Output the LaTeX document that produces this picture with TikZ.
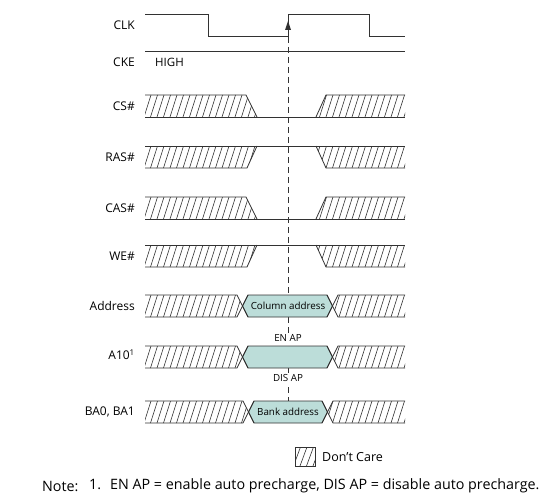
\documentclass[tikz,border=0pt]{standalone}
\usepackage{fontspec}
\setmainfont{Open Sans}
\usetikzlibrary{calc}

\definecolor{linegray}{RGB}{50,50,50}
\definecolor{busfill}{RGB}{188,221,217}

% hatched "don't care" area: #1 clip path, #2 top, #3 bottom
\newcommand{\hatchfill}[3]{%
  \begin{scope}
    \clip #1;
    \foreach \hx in {131,137.5,...,412}
      \draw[hatch] (\hx,#3) -- ($(\hx,#2)+(7,0)$);
  \end{scope}}

\begin{document}
\begin{tikzpicture}[x=1pt, y=-1pt]

    \tikzstyle{wave}=[line width=0.8pt, draw=linegray];
    \tikzstyle{hatch}=[line width=0.6pt, draw=linegray];
    \tikzstyle{siglabel}=[anchor=east, inner sep=0pt, font=\fontsize{12}{14}\selectfont];
    \tikzstyle{buslabel}=[inner sep=1pt, font=\fontsize{9.8}{11}\selectfont];
    \tikzstyle{hex}=[wave, fill=busfill];

    \useasboundingbox (0,0) rectangle (552,503);

    % signal names
    \node[siglabel] (clk)  at (135,25)  {CLK};
    \node[siglabel] (cke)  at (135,62)  {CKE};
    \node[siglabel] (cs)   at (135,106) {CS\#};
    \node[siglabel] (ras)  at (135,157) {RAS\#};
    \node[siglabel] (cas)  at (135,208) {CAS\#};
    \node[siglabel] (we)   at (135,256) {WE\#};
    \node[siglabel] (addr) at (135,306) {Address};
    \node[siglabel] (a10)  at (135,355) {A10\textsuperscript{1}};
    \node[siglabel] (ba)   at (135,412) {BA0, BA1};

    % reference edge
    \draw[wave, dash pattern=on 6pt off 4pt] (288,37) -- (288,401);

    % CLK and CKE
    \draw[wave] (145,14) -- (208,14) -- (208,36) -- (288,36) -- (288,14) -- (369,14) -- (369,36) -- (405,36);
    \fill[linegray] (285,30) -- (291,30) -- (288,21) -- cycle;
    \draw[wave] (145,51) -- (405,51);
    \node[anchor=west, inner sep=0pt, font=\fontsize{11.5}{13}\selectfont] (high) at (155,62) {HIGH};

    % CS# (low)
    \hatchfill{(145,95) -- (246,95) -- (257,117) -- (145,117) -- cycle}{95}{117}
    \hatchfill{(316,117) -- (326,95) -- (405,95) -- (405,117) -- cycle}{95}{117}
    \draw[wave] (145,95) -- (246,95) -- (257,117);
    \draw[wave] (316,117) -- (326,95) -- (405,95);
    \draw[wave] (145,117) -- (405,117);

    % RAS# (high)
    \hatchfill{(145,146) -- (257,146) -- (247,168) -- (145,168) -- cycle}{146}{168}
    \hatchfill{(316,146) -- (326,168) -- (405,168) -- (405,146) -- cycle}{146}{168}
    \draw[wave] (145,146) -- (405,146);
    \draw[wave] (145,168) -- (247,168) -- (257,146);
    \draw[wave] (316,146) -- (326,168) -- (405,168);

    % CAS# (low)
    \hatchfill{(145,197) -- (246,197) -- (257,219) -- (145,219) -- cycle}{197}{219}
    \hatchfill{(316,219) -- (326,197) -- (405,197) -- (405,219) -- cycle}{197}{219}
    \draw[wave] (145,197) -- (246,197) -- (257,219);
    \draw[wave] (316,219) -- (326,197) -- (405,197);
    \draw[wave] (145,219) -- (405,219);

    % WE# (high)
    \hatchfill{(145,245) -- (257,245) -- (247,267) -- (145,267) -- cycle}{245}{267}
    \hatchfill{(316,245) -- (326,267) -- (405,267) -- (405,245) -- cycle}{245}{267}
    \draw[wave] (145,245) -- (405,245);
    \draw[wave] (145,267) -- (247,267) -- (257,245);
    \draw[wave] (316,245) -- (326,267) -- (405,267);

    % Address
    \hatchfill{(145,295) -- (237,295) -- (242.5,306) -- (237,317) -- (145,317) -- cycle}{295}{317}
    \hatchfill{(332.5,306) -- (338,295) -- (405,295) -- (405,317) -- (338,317) -- cycle}{295}{317}
    \draw[hex] (242.5,306) -- (248,295) -- (327,295) -- (332.5,306) -- (327,317) -- (248,317) -- cycle;
    \draw[wave] (145,295) -- (237,295) -- (248,317);
    \draw[wave] (145,317) -- (237,317) -- (248,295);
    \draw[wave] (327,295) -- (338,317) -- (405,317);
    \draw[wave] (327,317) -- (338,295) -- (405,295);
    \node[buslabel] (col) at (288,306) {Column address};

    % A10
    \hatchfill{(145,346) -- (237,346) -- (242.5,357) -- (237,368) -- (145,368) -- cycle}{346}{368}
    \hatchfill{(332.5,357) -- (338,346) -- (405,346) -- (405,368) -- (338,368) -- cycle}{346}{368}
    \draw[hex] (242.5,357) -- (248,346) -- (327,346) -- (332.5,357) -- (327,368) -- (248,368) -- cycle;
    \draw[wave] (145,346) -- (237,346) -- (248,368);
    \draw[wave] (145,368) -- (237,368) -- (248,346);
    \draw[wave] (327,346) -- (338,368) -- (405,368);
    \draw[wave] (327,368) -- (338,346) -- (405,346);
    \node[buslabel, fill=white] (enap)  at (288,338) {EN AP};
    \node[buslabel, fill=white] (disap) at (288,378) {DIS AP};

    % BA0, BA1
    \hatchfill{(145,401) -- (243,401) -- (248.5,412) -- (243,423) -- (145,423) -- cycle}{401}{423}
    \hatchfill{(327.5,412) -- (333,401) -- (405,401) -- (405,423) -- (333,423) -- cycle}{401}{423}
    \draw[hex] (248.5,412) -- (254,401) -- (322,401) -- (327.5,412) -- (322,423) -- (254,423) -- cycle;
    \draw[wave] (145,401) -- (243,401) -- (254,423);
    \draw[wave] (145,423) -- (243,423) -- (254,401);
    \draw[wave] (322,401) -- (333,423) -- (405,423);
    \draw[wave] (322,423) -- (333,401) -- (405,401);
    \node[buslabel] (bank) at (288,412) {Bank address};

    % legend
    \hatchfill{(295,447) rectangle (315,466)}{447}{466}
    \draw[wave, line width=0.6pt] (295,447) rectangle (315,466);
    \node[anchor=west, inner sep=0pt, font=\fontsize{12.5}{14}\selectfont] (dc) at (322,457) {Don’t Care};

    % note
    \node[anchor=west, inner sep=0pt, font=\fontsize{14.3}{16}\selectfont] (note) at (42,486) {Note:};
    \node[anchor=west, inner sep=0pt, font=\fontsize{14.3}{16}\selectfont] (note1) at (89,486)
        {1.\hspace{9pt}EN AP = enable auto precharge, DIS AP = disable auto precharge.};
\end{tikzpicture}
\end{document}
